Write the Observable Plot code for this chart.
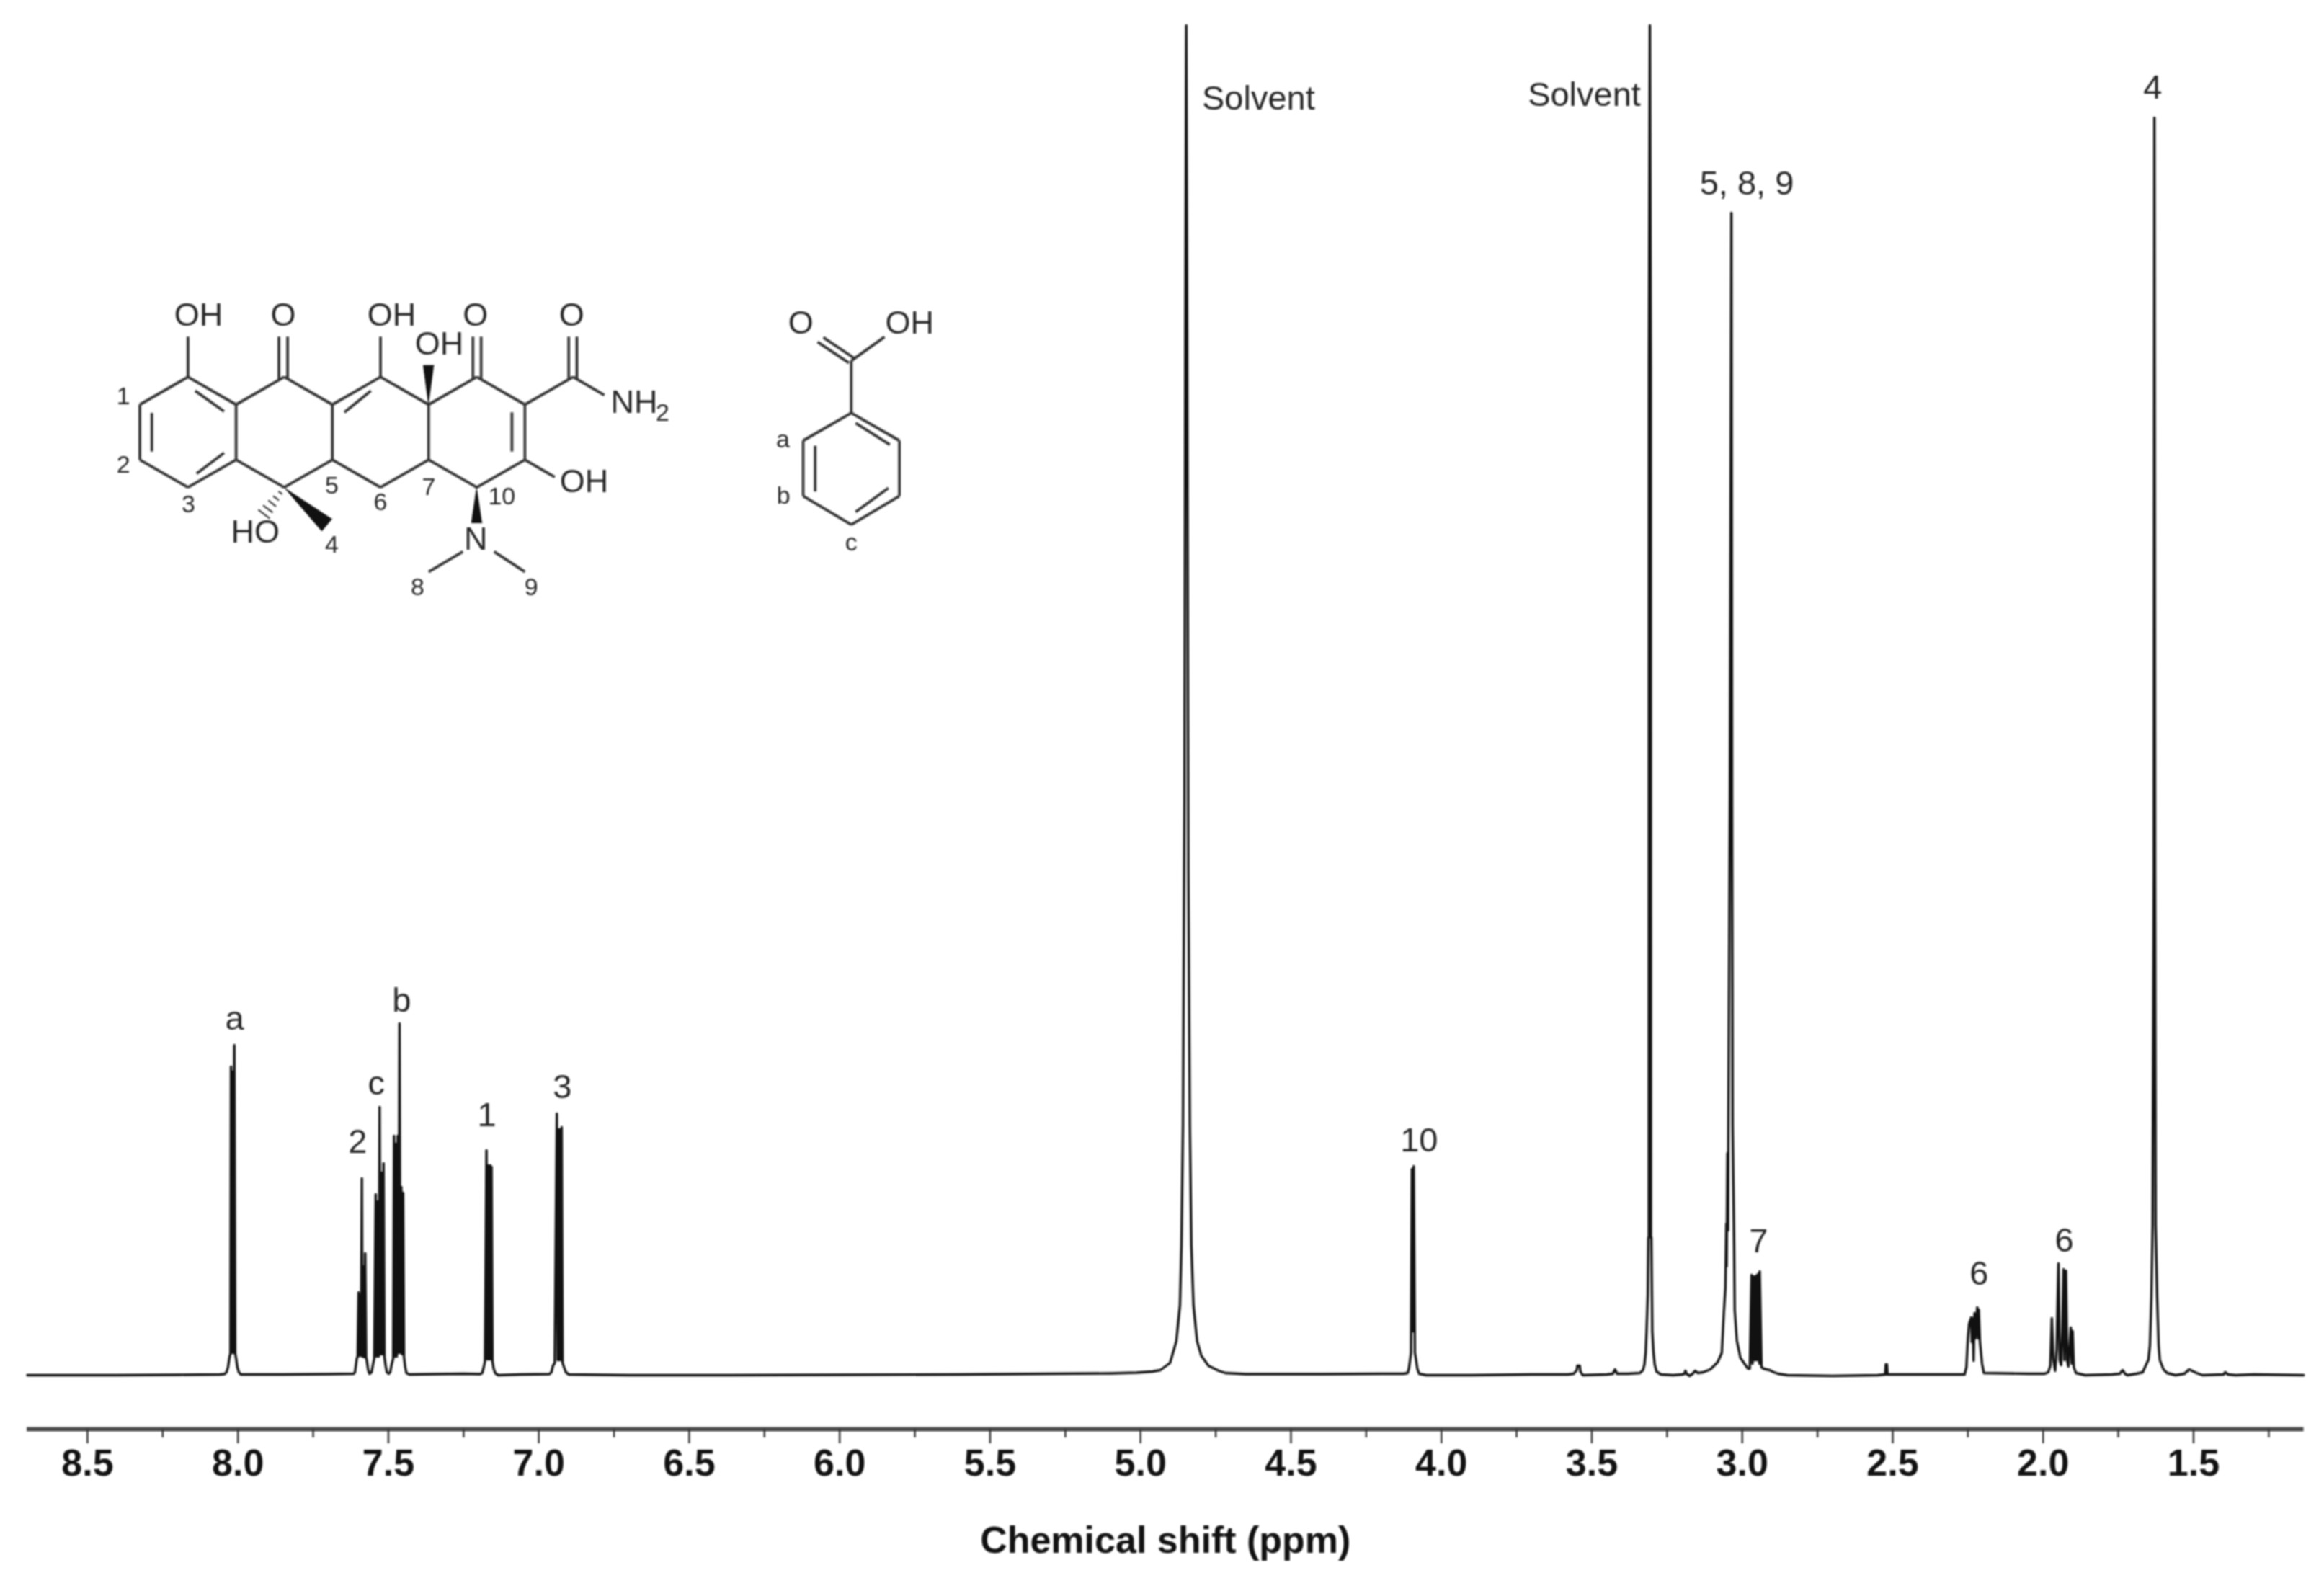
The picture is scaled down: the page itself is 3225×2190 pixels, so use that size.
<!DOCTYPE html>
<html>
<head>
<meta charset="utf-8">
<script src="https://cdn.jsdelivr.net/npm/d3@7"></script>
<script src="https://cdn.jsdelivr.net/npm/@observablehq/plot@0.6"></script>
<style>html,body{margin:0;padding:0;background:#fff}</style>
</head>
<body>
<div id="chart"></div>
<script>
// Spectrum trace: chemical shift (ppm) and intensity, in stretches
const leftPpm = [8.70,8.40,8.20,8.06,8.045,8.038,8.033,8.028,8.025,8.023,8.021,8.018,8.015,8.012,8.009,8.006,8.002,7.997,7.99,7.85,7.70,7.615];
const leftInt = [-1,-1,-0.5,0,0.5,3,10,24,29,427,30,420,30,457,29,22,10,3,0,0,0.5,1];
const groupTwoPpm = [7.611,7.605,7.602,7.599,7.597,7.594,7.591,7.588,7.586,7.583,7.58,7.577,7.574,7.572,7.567,7.563];
const groupTwoInt = [3,22,25,114,26,110,26,272,25,150,24,168,24,20,6,1];
const groupCPpm = [7.556,7.551,7.547,7.542,7.539,7.535,7.532,7.529,7.526,7.522,7.519,7.516,7.513,7.509,7.505,7.499];
const groupCInt = [3,14,22,250,25,240,25,371,28,280,28,293,24,12,3,1];
const groupBPpm = [7.494,7.489,7.484,7.481,7.478,7.475,7.472,7.469,7.466,7.463,7.46,7.457,7.454,7.451,7.448,7.444,7.44,7.43,7.35,7.25,7.195];
const groupBInt = [3,14,22,331,25,320,25,331,30,487,30,260,28,252,24,10,2,0,0.5,1,0.5];
const groupOnePpm = [7.188,7.183,7.179,7.174,7.171,7.168,7.165,7.161,7.159,7.157,7.154,7.15,7.145,7.135,7.06];
const groupOneInt = [2,10,18,311,21,290,21,290,21,288,18,8,2,-1,0];
const groupThreePpm = [6.965,6.958,6.953,6.947,6.94,6.937,6.934,6.931,6.928,6.926,6.924,6.921,6.916,6.91,6.9,6.7,6.4,6.0,5.6,5.3,5.1,5.013,4.96];
const groupThreeInt = [0.5,3,12,16,362,20,340,20,340,20,343,16,10,3,0,-1,-1,-0.5,0,1,1.5,2.5,4];
const solventAPpm = [4.934,4.902,4.881,4.869,4.864,4.859,4.854,4.851,4.848,4.845,4.841,4.836,4.831,4.824,4.812,4.798,4.774,4.74,4.718,4.65,4.4,4.2,4.125];
const solventAInt = [6,16,46,96,179,346,800,1450,1872,1450,700,346,179,96,46,26,12,5,2,0.5,0.5,1,1];
const groupTenPpm = [4.112,4.108,4.104,4.101,4.098,4.094,4.092,4.088,4.084,4.08,4.074,4.05,3.9,3.7,3.58,3.56,3.55,3.548,3.54,3.538,3.53,3.45,3.43,3.423,3.416,3.38,3.34];
const groupTenInt = [2,8,20,30,285,60,289,30,20,8,1,-1,-1,0,0,1,6,12,12,4,-1,0,1,7,1,1,2];
const solventBPpm = [3.33,3.325,3.321,3.318,3.314,3.312,3.3105,3.31,3.307,3.304,3.3035,3.302,3.299,3.295,3.291,3.285,3.27,3.23,3.2,3.192,3.189,3.185,3.175,3.165,3.156,3.148,3.13];
const solventBInt = [6,14,30,60,110,190,190,1400,1872,1400,190,190,60,30,14,4,0,-1,0,1,5,1,-2,1,5,2,3];
const groupMainPpm = [3.106,3.082,3.068,3.061,3.056,3.053,3.052,3.049,3.047,3.046,3.041,3.036,3.034,3.032,3.027,3.025,3.018,3.006,2.981];
const groupMainInt = [7,17,30,87,120,209,150,307,200,346,800,1612,800,346,179,89,47,23,8];
const groupSevenPpm = [2.975,2.969,2.966,2.963,2.96,2.957,2.954,2.951,2.948,2.945,2.943,2.942,2.936,2.929,2.92,2.909,2.895,2.881,2.85,2.7,2.55,2.525,2.523,2.521,2.519,2.517,2.45,2.3];
const groupSevenInt = [8,138,15,136,20,136,20,138,20,140,15,143,10,8,7,6,3,1,-1,-2,-1,0,14,0,14,0,0,0];
const groupSixAPpm = [2.261,2.255,2.25,2.246,2.239,2.237,2.234,2.231,2.228,2.225,2.219,2.216,2.214,2.21,2.203,2.197,2.05,1.995];
const groupSixAInt = [0,10,50,70,79,45,78,19,85,50,93,50,90,45,15,2,1,1];
const groupSixBPpm = [1.983,1.976,1.971,1.966,1.96,1.955,1.949,1.945,1.94,1.936,1.932,1.929,1.924,1.92,1.916,1.912,1.908,1.905,1.902,1.898,1.891,1.86,1.77,1.745,1.736,1.728,1.72,1.69];
const groupSixBInt = [3,12,78,20,5,35,154,20,13,60,146,20,144,20,11,40,65,15,60,10,2,-1,0,1,6,1,-1,1];
const groupFourPpm = [1.669,1.654,1.65,1.645,1.64,1.636,1.632,1.63,1.628,1.626,1.621,1.616,1.612,1.6,1.588,1.56,1.53,1.515,1.505,1.49,1.47,1.4,1.395,1.385,1.36,1.3,1.134];
const groupFourInt = [3,17,20,40,107,207,700,1744,700,207,107,40,20,7,2,-1,1,7,5,2,-1,0,3,0,-1,0,-1];

const tracePpm = [leftPpm,groupTwoPpm,groupCPpm,groupBPpm,groupOnePpm,groupThreePpm,solventAPpm,groupTenPpm,solventBPpm,groupMainPpm,groupSevenPpm,groupSixAPpm,groupSixBPpm,groupFourPpm].flat();
const traceInt = [leftInt,groupTwoInt,groupCInt,groupBInt,groupOneInt,groupThreeInt,solventAInt,groupTenInt,solventBInt,groupMainInt,groupSevenInt,groupSixAInt,groupSixBInt,groupFourInt].flat();
const trace = tracePpm.map((p,i)=>({p, v: traceInt[i]}));

// Peak annotations
const peakLabels = ["a","2","c","b","1","3","10","Solvent","Solvent","5, 8, 9","4","7","6","6"];
const peakLabelPpm = [8.011,7.602,7.540,7.456,7.173,6.922,4.074,4.608,3.525,2.985,1.636,2.946,2.213,1.930];
const peakLabelInt = [494,323,404,519,360,399,325,1771,1776,1653,1786,185,140,186];

// Axis
const majorTicks = [8.5,8,7.5,7,6.5,6,5.5,5,4.5,4,3.5,3,2.5,2,1.5];
const minorTicks = [8.25,7.75,7.25,6.75,6.25,5.75,5.25,4.75,4.25,3.75,3.25,2.75,2.25,1.75,1.25];
const xTitle = "Chemical shift (ppm)";

// Structure inset: bonds on a hexagon lattice (column, row) -> [c1,r1,c2,r2]
const bonds = [
 [1,0,2,1],[2,1,2,3],[2,3,1,4],[1,4,0,3],[0,3,0,1],[0,1,1,0],
 [1.15,.5,1.75,1.25],[.25,1.3,.25,2.7],[1.18,3.5,1.75,2.75],
 [2,1,3,0],[3,0,4,1],[4,1,4,3],[4,3,3,4],[3,4,2,3],
 [4,1,5,0],[5,0,6,1],[6,1,6,3],[6,3,5,4],[5,4,4,3],[4.25,1.28,4.8,.5],
 [6,1,7,0],[7,0,8,1],[8,1,8,3],[8,3,7,4],[7,4,6,3],[7.73,1.28,7.73,2.7],
 [1,0,1,-1.46],[5,0,5,-1.46],
 [2.89,.1,2.89,-1.46],[3.07,.1,3.07,-1.46],
 [6.92,.1,6.92,-1.46],[7.09,.1,7.09,-1.46],
 [8.91,.1,8.91,-1.46],[9.08,.1,9.08,-1.46],
 [8,1,9,0],[9,0,9.65,.66],[8,3,8.62,3.63],
 [6.71,6.33,6,7.06],[7.36,6.33,8,7.06],
 // benzoic acid
 [14.78,1.305,15.78,2.305],[15.78,2.305,15.78,4.31],[15.78,4.31,14.78,5.35],[14.78,5.35,13.78,4.31],[13.78,4.31,13.78,2.305],[13.78,2.305,14.78,1.305],
 [14.87,1.67,15.58,2.45],[14.03,2.49,14.03,4.15],[14.87,4.89,15.55,4.02],
 [14.78,1.305,14.78,-.59],[14.73,-.51,14.08,-1.27],[14.85,-.67,14.2,-1.43],[14.78,-.59,15.47,-1.45]
];
const hashes = [[2.88,4.14,2.96,4.25],[2.77,4.31,2.89,4.47],[2.67,4.47,2.83,4.69],[2.56,4.65,2.76,4.91],[2.46,4.81,2.7,5.13]];
const wedgeId = [0,0,0,1,1,1,2,2,2];
const wedgeCol = [6,5.89,6.11,7,6.89,7.11,3,3.78,3.99];
const wedgeRow = [1,-.42,-.42,4,5.28,5.28,4,5.58,5.14];
const atomText = ["OH","O","OH","O","O","OH","NH","OH","HO","N","O","OH"];
const atomCol = [1.22,2.98,5.23,6.97,8.97,6.22,10.27,9.23,2.4,6.98,13.73,15.99];
const atomRow = [-2.24,-2.24,-2.24,-2.24,-2.24,-1.19,.92,3.79,5.62,5.88,-1.95,-1.95];
const numText = ["1","2","3","5","6","7","10","4","8","9","a","b","c","2"];
const numCol = [-.34,-.34,1.01,3.99,5,6,7.52,3.99,5.77,8.13,13.36,13.37,14.78,10.86];
const numRow = [.69,3.19,4.63,3.93,4.55,3.98,4.32,6.07,7.63,7.63,2.28,4.31,5.99,1.31];

// lattice -> chart data units
const latX = c => 8.5 - ((193.6 + 66.8*c) - 121)/417.5;
const latY = r => 1907 - (522.7 + 38.3*r);

const ink = "#111";
const txt = "#262626";
const chart = Plot.plot({
  width: 3225, height: 2190,
  marginLeft: 37, marginRight: 28.5, marginTop: 35, marginBottom: 207,
  style: {fontFamily: "'Liberation Sans', Arial, sans-serif", background: "#fff", color: "#111", filter: "blur(1px)"},
  x: {domain: [8.701, 1.1335], axis: null},
  y: {domain: [-76, 1872], axis: null},
  marks: [
    Plot.line(trace, {x: "p", y: "v", stroke: ink, strokeWidth: 3.4, strokeLinejoin: "round"}),
    Plot.text(peakLabels.map((t,i)=>({t,p:peakLabelPpm[i],v:peakLabelInt[i]})), {x:"p", y:"v", text:"t", fontSize:47, fill:txt, textAnchor:"middle", lineAnchor:"middle"}),
    Plot.ruleY([-76], {stroke:"#4a4a4a", strokeWidth:6}),
    Plot.axisX({anchor:"bottom", ticks:minorTicks, tickSize:12, tickFormat:()=>"", label:null, stroke:"#333", strokeWidth:2.5}),
    Plot.axisX({anchor:"bottom", ticks:majorTicks, tickSize:20, tickPadding:8, tickFormat:d3.format(".1f"), fontSize:52, fontWeight:"bold", fill:"#111", stroke:"#333", strokeWidth:2.5,
      label:xTitle, labelAnchor:"center", labelArrow:"none", labelOffset:171}),
    Plot.link(bonds, {x1:d=>latX(d[0]), y1:d=>latY(d[1]), x2:d=>latX(d[2]), y2:d=>latY(d[3]), stroke:"#333", strokeWidth:3.8}),
    Plot.link(hashes, {x1:d=>latX(d[0]), y1:d=>latY(d[1]), x2:d=>latX(d[2]), y2:d=>latY(d[3]), stroke:"#333", strokeWidth:2.2}),
    Plot.line(wedgeId.map((z,i)=>({z,c:wedgeCol[i],r:wedgeRow[i]})), {x:d=>latX(d.c), y:d=>latY(d.r), z:"z", fill:"#111", stroke:"#111", strokeWidth:1}),
    Plot.text(atomText.map((t,i)=>({t,c:atomCol[i],r:atomRow[i]})), {x:d=>latX(d.c), y:d=>latY(d.r), text:"t", fontSize:45, fill:txt, lineAnchor:"middle"}),
    Plot.text(numText.map((t,i)=>({t,c:numCol[i],r:numRow[i]})), {x:d=>latX(d.c), y:d=>latY(d.r), text:"t", fontSize:34, fill:txt, lineAnchor:"middle"})
  ]
});
document.getElementById("chart").appendChild(chart);
</script>
</body>
</html>
